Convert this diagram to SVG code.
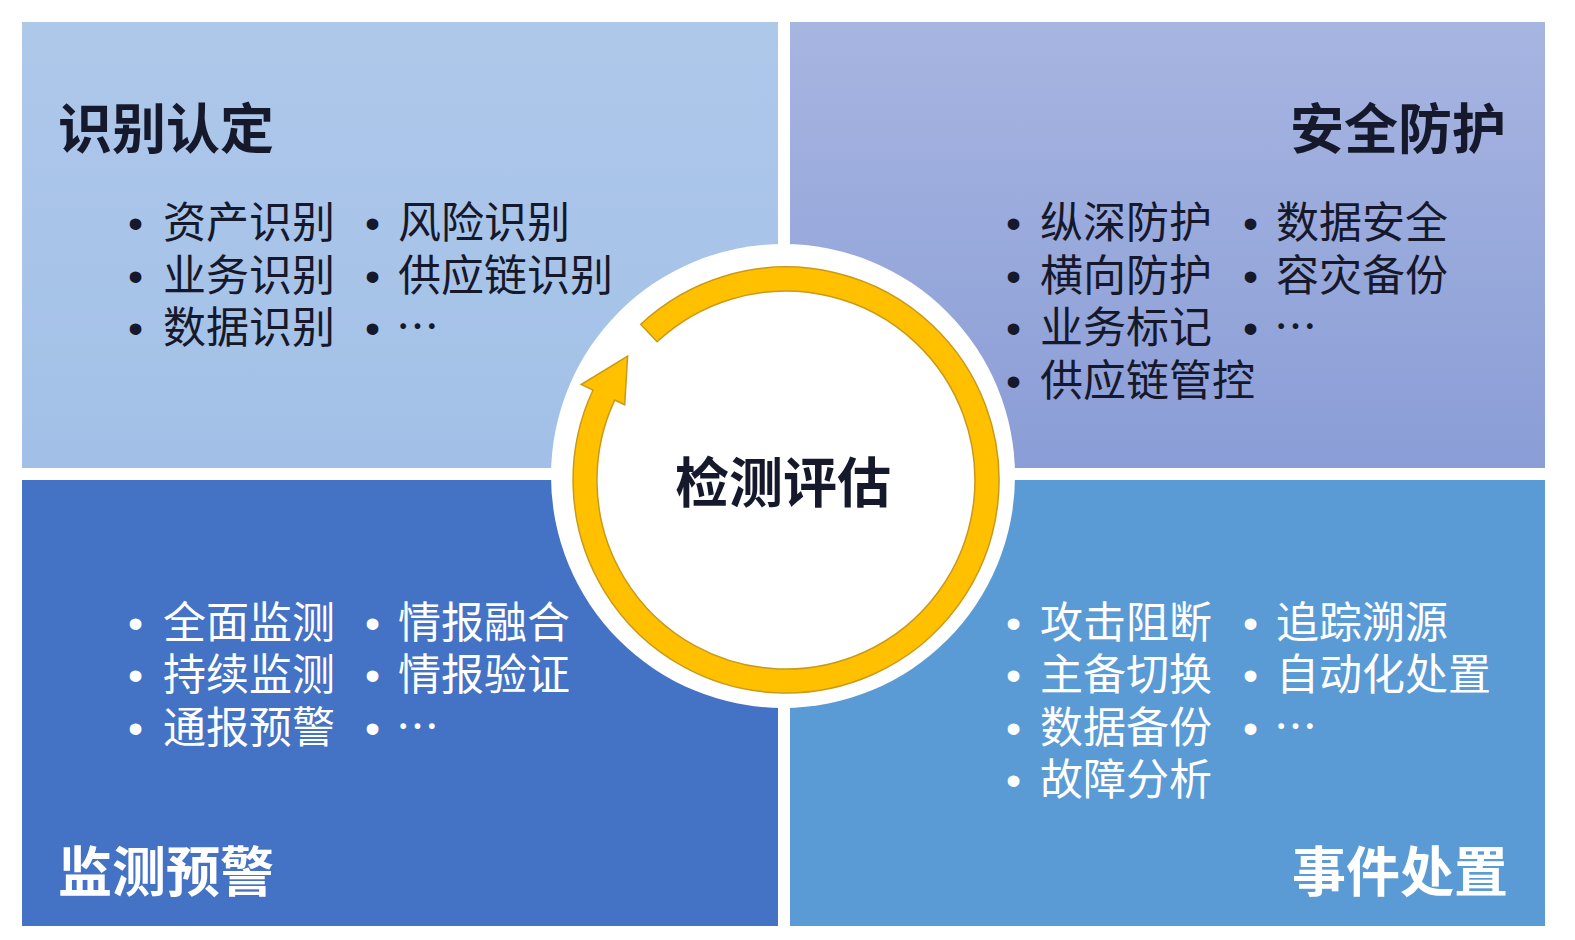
<svg xmlns="http://www.w3.org/2000/svg" width="1575" height="940" viewBox="0 0 1575 940">
<defs>
<linearGradient id="gTR" x1="0" y1="0" x2="0" y2="1">
<stop offset="0" stop-color="#A7B5E1"/>
<stop offset="1" stop-color="#8A9DD6"/>
</linearGradient>
<linearGradient id="gTL" x1="0" y1="0" x2="0" y2="1">
<stop offset="0" stop-color="#AEC8EA"/>
<stop offset="1" stop-color="#A2C0E7"/>
</linearGradient>
<style>
.t{font-family:"Noto Sans CJK SC","Noto Sans",sans-serif;font-size:54px;font-weight:700}
.i{font-family:"Noto Sans CJK SC","Noto Sans",sans-serif;font-size:43px}
.b{font-family:"Liberation Sans",sans-serif}
.dk{fill:#15192B}
.wh{fill:#FFFFFF}
</style>
</defs>
<rect width="1575" height="940" fill="#FFFFFF"/>
<g id="q-identify">
<rect x="22" y="22" width="756" height="446" fill="url(#gTL)"/>
<text class="t dk" x="58" y="149">识别认定</text>
<text class="i dk"><tspan class="b" x="128" y="238">•</tspan><tspan x="163" y="238">资产识别</tspan><tspan class="b" x="365" y="238">•</tspan><tspan x="398" y="238">风险识别</tspan></text>
<text class="i dk"><tspan class="b" x="128" y="291">•</tspan><tspan x="163" y="291">业务识别</tspan><tspan class="b" x="365" y="291">•</tspan><tspan x="398" y="291">供应链识别</tspan></text>
<text class="i dk"><tspan class="b" x="128" y="343">•</tspan><tspan x="163" y="343">数据识别</tspan><tspan class="b" x="365" y="343">•</tspan><tspan x="396" y="343">⋯</tspan></text>
</g>
<g id="q-protect">
<rect x="790" y="22" width="755" height="446" fill="url(#gTR)"/>
<text class="t dk" x="1506" y="149" text-anchor="end">安全防护</text>
<text class="i dk"><tspan class="b" x="1006" y="238">•</tspan><tspan x="1040" y="238">纵深防护</tspan><tspan class="b" x="1243" y="238">•</tspan><tspan x="1276" y="238">数据安全</tspan></text>
<text class="i dk"><tspan class="b" x="1006" y="291">•</tspan><tspan x="1040" y="291">横向防护</tspan><tspan class="b" x="1243" y="291">•</tspan><tspan x="1276" y="291">容灾备份</tspan></text>
<text class="i dk"><tspan class="b" x="1006" y="343">•</tspan><tspan x="1040" y="343">业务标记</tspan><tspan class="b" x="1243" y="343">•</tspan><tspan x="1274" y="343">⋯</tspan></text>
<text class="i dk"><tspan class="b" x="1006" y="396">•</tspan><tspan x="1040" y="396">供应链管控</tspan></text>
</g>
<g id="q-monitor">
<rect x="22" y="480" width="756" height="446" fill="#4472C4"/>
<text class="t wh" x="58" y="892">监测预警</text>
<text class="i wh"><tspan class="b" x="128" y="638">•</tspan><tspan x="163" y="638">全面监测</tspan><tspan class="b" x="365" y="638">•</tspan><tspan x="398" y="638">情报融合</tspan></text>
<text class="i wh"><tspan class="b" x="128" y="690">•</tspan><tspan x="163" y="690">持续监测</tspan><tspan class="b" x="365" y="690">•</tspan><tspan x="398" y="690">情报验证</tspan></text>
<text class="i wh"><tspan class="b" x="128" y="743">•</tspan><tspan x="163" y="743">通报预警</tspan><tspan class="b" x="365" y="743">•</tspan><tspan x="396" y="743">⋯</tspan></text>
</g>
<g id="q-response">
<rect x="790" y="480" width="755" height="446" fill="#5B9BD5"/>
<text class="t wh" x="1508" y="892" text-anchor="end">事件处置</text>
<text class="i wh"><tspan class="b" x="1006" y="638">•</tspan><tspan x="1040" y="638">攻击阻断</tspan><tspan class="b" x="1243" y="638">•</tspan><tspan x="1276" y="638">追踪溯源</tspan></text>
<text class="i wh"><tspan class="b" x="1006" y="690">•</tspan><tspan x="1040" y="690">主备切换</tspan><tspan class="b" x="1243" y="690">•</tspan><tspan x="1276" y="690">自动化处置</tspan></text>
<text class="i wh"><tspan class="b" x="1006" y="743">•</tspan><tspan x="1040" y="743">数据备份</tspan><tspan class="b" x="1243" y="743">•</tspan><tspan x="1274" y="743">⋯</tspan></text>
<text class="i wh"><tspan class="b" x="1006" y="795">•</tspan><tspan x="1040" y="795">故障分析</tspan></text>
</g>
<g id="center">
<circle cx="783" cy="476" r="232" fill="#FFFFFF"/>
<path d="M640.7,324.3 A213,213 0 1 1 593.0,390.0 L581.2,384.5 L627.6,356.2 L624.7,404.8 L614.7,400.1 A189,189 0 1 0 657.1,341.8 Z" fill="#FFC000" stroke="#C99A1A" stroke-width="1.5" stroke-linejoin="miter"/>
<text class="t dk" x="783" y="503" text-anchor="middle">检测评估</text>
</g>
<g id="connectors"></g>
</svg>
